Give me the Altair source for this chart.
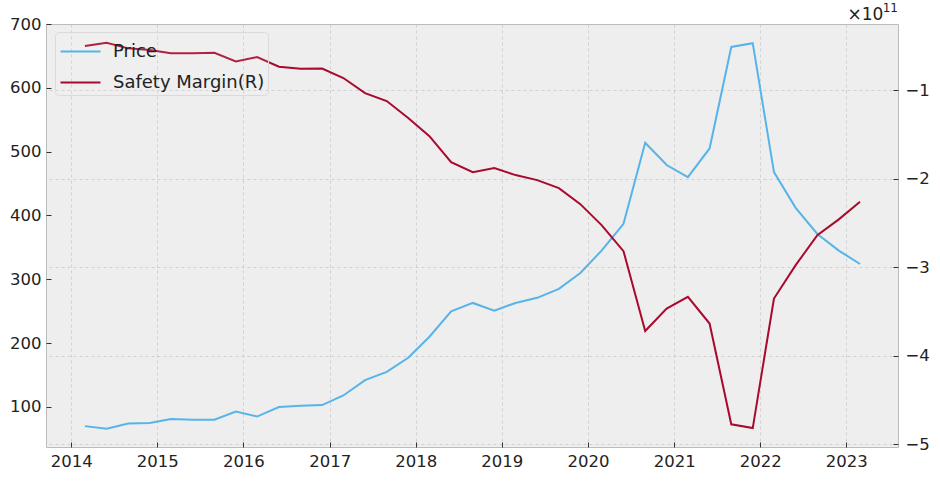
import altair as alt
import pandas as pd

# quarterly observation dates (month ends: Feb, May, Aug, Nov)
years = list(range(2014, 2024))
month_ends = ["02-28", "05-31", "08-31", "11-30"]
dates = [f"{y}-{m}" for y in years for m in month_ends][:37]

price = [70, 66, 74, 75, 81, 80, 80, 93, 85, 100, 102, 103, 118, 142, 155, 177,
         210, 250, 263, 251, 263, 271, 285, 310, 345, 387, 514, 479, 460, 505,
         664, 670, 468, 412, 371, 345, 324]

margin_e11 = [-0.503, -0.466, -0.529, -0.548, -0.585, -0.585, -0.579, -0.676,
              -0.627, -0.737, -0.759, -0.757, -0.864, -1.034, -1.124, -1.316,
              -1.52, -1.814, -1.927, -1.881, -1.96, -2.017, -2.107, -2.288,
              -2.525, -2.819, -3.72, -3.467, -3.335, -3.636, -4.774, -4.816,
              -3.354, -2.977, -2.638, -2.46, -2.262]

series_names = ["Price", "Safety Margin(R)"]
series_colors = ["#56B4E9", "#A8092C"]

df_price = pd.DataFrame({"date": dates, "value": price, "series": series_names[0]})
df_margin = pd.DataFrame({"date": dates,
                          "value": [v * 1e11 for v in margin_e11],
                          "series": series_names[1]})

FONT = "DejaVu Sans"

x_enc = alt.X(
    "date:T",
    scale=alt.Scale(type="utc",
                    domain=[alt.DateTime(year=2013, month=9, date=16, utc=True),
                            alt.DateTime(year=2023, month=8, date=8, utc=True)],
                    nice=False),
    axis=alt.Axis(values=[alt.DateTime(year=y, utc=True) for y in years],
                  format="%Y", formatType="utc", title=None, grid=True,
                  gridColor="#c8c8c8", gridDash=[3, 3], gridWidth=0.8,
                  domain=False, offset=-5, tickSize=5, tickColor="#333333",
                  labelPadding=6, labelFontSize=16.5, labelColor="#222222",
                  labelFont=FONT),
)

color_enc = alt.Color(
    "series:N",
    scale=alt.Scale(domain=series_names, range=series_colors),
    legend=alt.Legend(title=None, orient="none", legendX=9, legendY=8,
                      symbolType="M-1.333,0L1.333,0", symbolSize=900,
                      symbolStrokeWidth=2.2, symbolOffset=6,
                      labelFontSize=18, labelFont=FONT, labelColor="#222222",
                      labelOffset=16, rowPadding=5, padding=3,
                      fillColor="rgba(255,255,255,0.1)", strokeColor="#dadada",
                      cornerRadius=4),
)

price_line = alt.Chart(df_price).mark_line(strokeWidth=2).encode(
    x=x_enc,
    y=alt.Y("value:Q",
            scale=alt.Scale(domain=[37.3, 700], nice=False, zero=False),
            axis=alt.Axis(orient="left", values=[100, 200, 300, 400, 500, 600, 700],
                          title=None, grid=False, domain=False, offset=-5,
                          tickSize=5, tickColor="#333333", labelPadding=5,
                          labelFontSize=16.5, labelColor="#222222", labelFont=FONT)),
    color=color_enc,
)

margin_line = alt.Chart(df_margin).mark_line(strokeWidth=2).encode(
    x=x_enc,
    y=alt.Y("value:Q",
            scale=alt.Scale(domain=[-5.03e11, -0.254e11], nice=False, zero=False),
            axis=alt.Axis(orient="right",
                          values=[-5e11, -4e11, -3e11, -2e11, -1e11],
                          labelExpr="format(datum.value / 1e11, 'd')",
                          title="×10", titleAngle=0, titleX=-46, titleY=-5,
                          titleAlign="left", titleBaseline="alphabetic",
                          titleFontWeight="normal", titleFontSize=17,
                          titleFont=FONT, titleColor="#222222",
                          grid=True, gridColor="#c8c8c8", gridDash=[3, 3],
                          gridWidth=0.8, domain=False, offset=-5, tickSize=5,
                          tickColor="#333333", labelPadding=7,
                          labelFontSize=16.5, labelColor="#222222", labelFont=FONT)),
    color=color_enc,
)

chart = (
    alt.layer(price_line, margin_line)
    .resolve_scale(y="independent")
    .properties(width=852, height=423,
                title=alt.TitleParams(text="11", anchor="end", frame="group",
                                      orient="top", baseline="alphabetic",
                                      offset=0, dy=19, fontSize=12, font=FONT,
                                      fontWeight="normal", color="#222222"),
                autosize=alt.AutoSizeParams(type="none"),
                padding={"left": 46, "top": 24, "right": 42, "bottom": 38},
                background="white")
    .configure_view(fill="#eeeeee", stroke="#bcbcbc", strokeWidth=1)
)

chart.save("out.html", embed_options={"renderer": "svg", "actions": False})
